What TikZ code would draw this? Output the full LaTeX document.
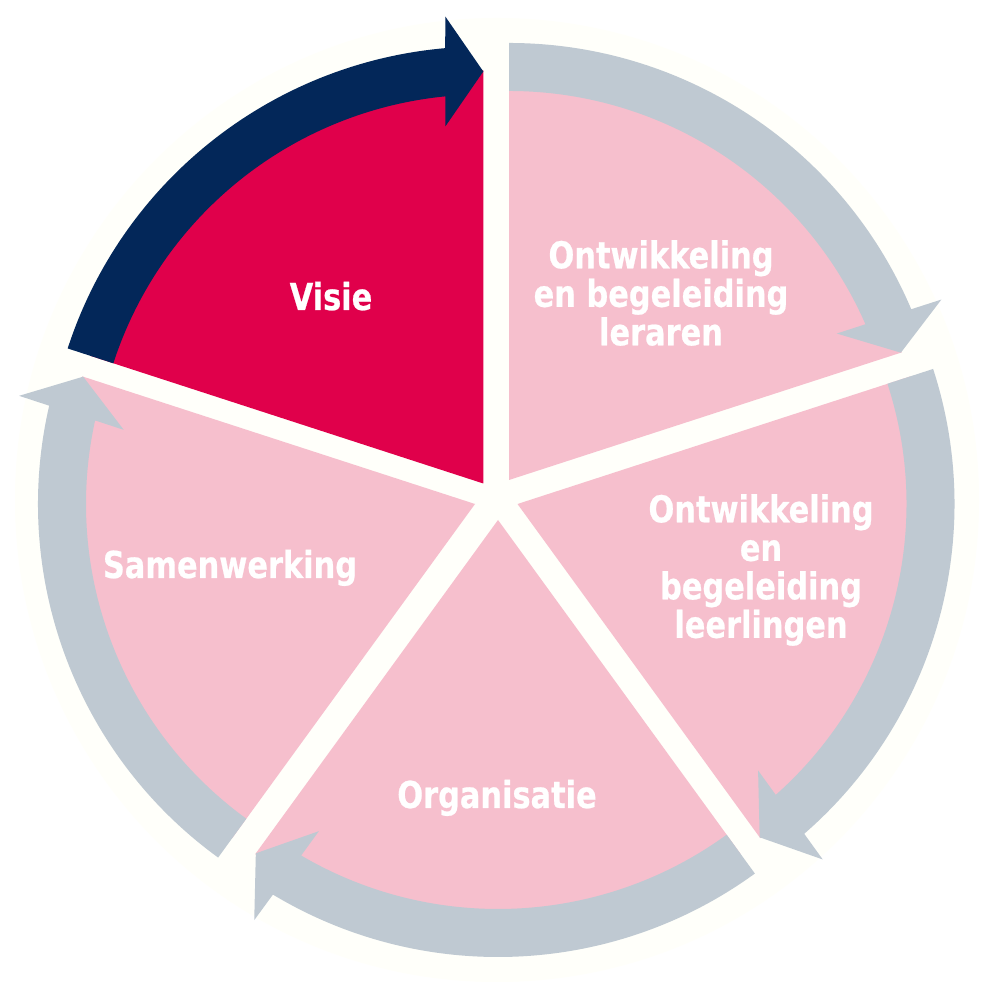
\documentclass[tikz,border=0pt]{standalone}
\usepackage{fontspec}
\newfontfamily\labelfont[FakeStretch=0.82, BoldFeatures={FakeBold=0.6}]{DejaVu Sans}
\usetikzlibrary{calc}
\definecolor{visiered}{HTML}{E0004B}
\definecolor{visienavy}{HTML}{032759}
\definecolor{piepink}{HTML}{F6BFCD}
\definecolor{ringgrey}{HTML}{BFC9D2}
\definecolor{haze}{HTML}{FFFFFA}
\tikzset{
  label text/.style={text=white, align=center, inner sep=0pt,
    font=\labelfont\bfseries\fontsize{21.1}{21.9}\selectfont},
}
\begin{document}
\begin{tikzpicture}[x=0.2mm, y=0.2mm]
  \useasboundingbox (0,0) rectangle (1000,1000);
  \fill[white] (0,0) rectangle (1000,1000);
  \fill[haze] (497,500) circle (482);
  % pieces: apex x / apex y / rotation / wedge colour / ring colour
  \foreach \ax/\ay/\rot/\wc/\bc in {483.3/516.5/0/visiered/visienavy,
      509/520/-72/piepink/ringgrey, 517.5/496/-144/piepink/ringgrey,
      498/480/-216/piepink/ringgrey, 475/496/-288/piepink/ringgrey} {
    \begin{scope}[shift={(\ax,\ay)}, rotate=\rot]
      \fill[\wc] (0,0) -- (162:413) arc[start angle=162, end angle=90, radius=413] -- cycle;
      \fill[\bc] (162:389) -- (162:437) arc[start angle=162, end angle=95, radius=437]
        -- (-38,467) -- (0,412) -- (-38,357)
        -- (95.6:389) arc[start angle=95.6, end angle=162, radius=389] -- cycle;
    \end{scope}
  }
  \node[label text, anchor=base] (visie) at (331,690) {Visie};
  \node[label text] (leraren) at (661,707) {Ontwikkeling\\en begeleiding\\leraren};
  \node[label text] (leerlingen) at (761,430) {Ontwikkeling\\en\\begeleiding\\leerlingen};
  \node[label text, anchor=base] (organisatie) at (497,192) {Organisatie};
  \node[label text, anchor=base] (samenwerking) at (230,422) {Samenwerking};
\end{tikzpicture}
\end{document}
